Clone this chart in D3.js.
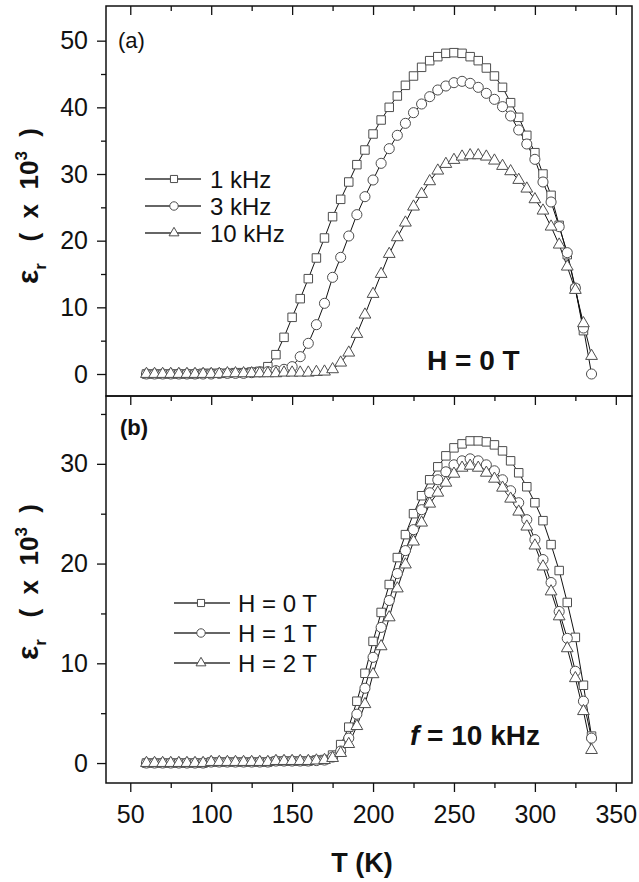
<!DOCTYPE html>
<html>
<head>
<meta charset="utf-8">
<script src="https://cdn.jsdelivr.net/npm/d3@7"></script>
<style>
  body { margin: 0; background: #fff; }
  svg text { font-family: Arial, "Liberation Sans", sans-serif; fill: #111; }
</style>
</head>
<body>
<div id="chart"></div>
<script>
// temperature grid (K)
const temps = [60, 65, 70, 75, 80, 85, 90, 95, 100, 105, 110, 115, 120, 125, 130, 135, 140, 145, 150, 155,
  160, 165, 170, 175, 180, 185, 190, 195, 200, 205, 210, 215, 220, 225, 230, 235, 240, 245, 250, 255,
  260, 265, 270, 275, 280, 285, 290, 295, 300, 305, 310, 315, 320, 325, 330, 335];

// panel (a), H = 0 T, eps_r x 10^3
const eps1k = [0.0, 0.0, 0.0, 0.0, 0.0, 0.0, 0.0, 0.1, 0.1, 0.1, 0.1, 0.2, 0.2, 0.3, 0.4, 1.1, 2.9, 5.5, 8.5, 11.3,
  14.3, 17.4, 20.4, 23.6, 26.2, 28.8, 31.4, 33.6, 36.0, 38.1, 40.0, 41.7, 43.3, 44.7, 46.0, 47.0, 47.6, 48.1, 48.2, 48.1,
  47.6, 47.0, 45.9, 44.7, 43.0, 40.7, 38.5, 35.8, 33.2, 30.0, 26.8, 22.3, 17.9, 12.8, 6.5, null];
const eps3k = [0.0, 0.0, 0.0, 0.0, 0.0, 0.0, 0.0, 0.0, 0.0, 0.1, 0.1, 0.1, 0.1, 0.2, 0.3, 0.35, 0.5, 0.7, 1.1, 2.6,
  4.6, 7.4, 10.6, 14.5, 17.5, 20.7, 23.9, 26.6, 29.1, 31.6, 33.8, 35.8, 37.6, 39.2, 40.5, 41.6, 42.6, 43.2, 43.7, 43.9,
  43.6, 43.0, 42.1, 41.2, 40.1, 38.7, 36.6, 34.5, 32.2, 28.8, 25.8, 22.1, 18.2, 12.9, 6.9, 0.0];
const eps10k = [0.0, 0.0, 0.0, 0.0, 0.0, 0.0, 0.0, 0.0, 0.0, 0.0, 0.1, 0.1, 0.1, 0.1, 0.1, 0.1, 0.1, 0.2, 0.2, 0.2,
  0.2, 0.3, 0.35, 0.7, 1.7, 3.2, 6.0, 8.9, 12.0, 15.0, 18.0, 20.5, 22.7, 25.1, 27.0, 28.9, 30.5, 31.5, 32.1, 32.6,
  32.8, 32.8, 32.6, 32.0, 31.2, 30.4, 29.1, 27.8, 26.2, 24.5, 22.1, 19.4, 16.1, 12.6, 7.6, 2.7];

// panel (b), f = 10 kHz
const epsH0 = [0.0, 0.0, 0.0, 0.0, 0.0, 0.0, 0.0, 0.0, 0.1, 0.1, 0.1, 0.1, 0.1, 0.1, 0.1, 0.1, 0.2, 0.2, 0.2, 0.2,
  0.2, 0.3, 0.35, 0.8, 1.85, 3.6, 6.2, 9.0, 12.2, 15.1, 17.9, 20.6, 22.9, 25.0, 26.8, 28.4, 29.7, 30.8, 31.6, 32.0,
  32.3, 32.3, 32.2, 31.9, 31.3, 30.3, 29.1, 27.7, 26.1, 24.3, 21.9, 19.3, 16.1, 12.6, 7.8, 2.7];
const epsH1 = [0.0, 0.0, 0.0, 0.0, 0.0, 0.0, 0.0, 0.0, 0.1, 0.1, 0.1, 0.1, 0.1, 0.1, 0.1, 0.1, 0.2, 0.2, 0.2, 0.2,
  0.2, 0.25, 0.3, 0.6, 1.2, 2.5, 4.9, 7.5, 10.6, 13.6, 16.3, 19.0, 21.3, 23.4, 25.4, 27.1, 28.4, 29.2, 29.9, 30.3,
  30.5, 30.3, 29.9, 29.3, 28.4, 27.3, 26.1, 24.4, 22.4, 20.4, 18.1, 15.2, 12.5, 9.2, 6.2, 2.5];
const epsH2 = [0.0, 0.0, 0.0, 0.0, 0.0, 0.0, 0.0, 0.0, 0.1, 0.1, 0.1, 0.1, 0.1, 0.1, 0.1, 0.1, 0.2, 0.2, 0.2, 0.2,
  0.2, 0.25, 0.3, 0.5, 1.0, 1.9, 3.7, 5.9, 8.9, 11.7, 14.6, 17.5, 19.9, 22.2, 24.1, 26.0, 27.1, 28.1, 29.0, 29.6,
  29.8, 29.6, 29.1, 28.5, 27.6, 26.5, 25.2, 23.7, 21.8, 19.7, 17.2, 14.7, 11.5, 8.5, 5.2, 1.3];

const xTicks = [50, 100, 150, 200, 250, 300, 350];
const xMinor = [75, 125, 175, 225, 275, 325];
const yTicksA = [0, 10, 20, 30, 40, 50];
const yMinorA = [5, 15, 25, 35, 45];
const yTicksB = [0, 10, 20, 30];
const yMinorB = [5, 15, 25, 35];

const legendA = ["1 kHz", "3 kHz", "10 kHz"];
const legendB = ["H = 0 T", "H = 1 T", "H = 2 T"];

const width = 639, height = 882;
const left = 106, right = 632, topA = 6, mid = 396, botB = 783;

const svg = d3.select("#chart").append("svg")
    .attr("width", width)
    .attr("height", height);

const x = d3.scaleLinear().domain([35, 360]).range([left, right]);
const yA = d3.scaleLinear().domain([-3.3, 55.2]).range([mid, topA]);
const yB = d3.scaleLinear().domain([-2, 36.8]).range([botB, mid]);

const symbols = [d3.symbolSquare, d3.symbolCircle, d3.symbolTriangle];

function marker(g, i, scale) {
    const sizes = [72, 80, 60];
    g.append("path")
        .attr("d", d3.symbol().type(symbols[i]).size(sizes[i] * scale)())
        .attr("fill", "#fff")
        .attr("stroke", "#4d4d4d")
        .attr("stroke-width", 1);
}

function drawPanel(y, seriesList, yTicks, yMinor, y0, y1) {
    const g = svg.append("g");

    // y axis
    g.append("g")
        .attr("transform", `translate(${left},0)`)
        .call(d3.axisLeft(y).tickValues(yTicks).tickSize(9).tickPadding(9).tickFormat(d3.format("d")))
        .call(a => a.select(".domain").remove())
        .call(a => a.selectAll("text").style("font-size", "25px"))
        .call(a => a.selectAll("line").attr("stroke", "#111").attr("stroke-width", 1.3));
    g.append("g")
        .attr("transform", `translate(${left},0)`)
        .call(d3.axisLeft(y).tickValues(yMinor).tickSize(5).tickFormat(""))
        .call(a => a.select(".domain").remove())
        .call(a => a.selectAll("line").attr("stroke", "#111").attr("stroke-width", 1.3));

    // inward ticks on the top edge
    g.append("g")
        .attr("transform", `translate(0,${y1})`)
        .call(d3.axisBottom(x).tickValues(xTicks).tickSize(9).tickFormat(""))
        .call(a => a.select(".domain").remove())
        .call(a => a.selectAll("line").attr("stroke", "#111").attr("stroke-width", 1.3));
    g.append("g")
        .attr("transform", `translate(0,${y1})`)
        .call(d3.axisBottom(x).tickValues(xMinor).tickSize(5).tickFormat(""))
        .call(a => a.select(".domain").remove())
        .call(a => a.selectAll("line").attr("stroke", "#111").attr("stroke-width", 1.3));

    // series
    seriesList.forEach(vals => {
        const pts = temps.map((t, k) => ({ t: t, v: vals[k] })).filter(d => d.v != null);
        g.append("path")
            .datum(pts)
            .attr("fill", "none")
            .attr("stroke", "#111")
            .attr("stroke-width", 1)
            .attr("d", d3.line().x(d => x(d.t)).y(d => y(d.v)));
    });
    seriesList.forEach((vals, i) => {
        const pts = temps.map((t, k) => ({ t: t, v: vals[k] })).filter(d => d.v != null);
        g.selectAll(null)
            .data(pts)
            .enter()
            .append("g")
            .attr("transform", d => `translate(${x(d.t)},${y(d.v)})`)
            .each(function () { marker(d3.select(this), i, 1); });
    });

    // frame
    g.append("rect")
        .attr("x", left)
        .attr("y", y1)
        .attr("width", right - left)
        .attr("height", y0 - y1)
        .attr("fill", "none")
        .attr("stroke", "#111")
        .attr("stroke-width", 1.5);
    return g;
}

drawPanel(yA, [eps1k, eps3k, eps10k], yTicksA, yMinorA, mid, topA);
drawPanel(yB, [epsH0, epsH1, epsH2], yTicksB, yMinorB, botB, mid);

// bottom x axis
svg.append("g")
    .attr("transform", `translate(0,${botB})`)
    .call(d3.axisBottom(x).tickValues(xTicks).tickSize(9).tickPadding(13).tickFormat(d3.format("d")))
    .call(a => a.select(".domain").remove())
    .call(a => a.selectAll("text").style("font-size", "25px"))
    .call(a => a.selectAll("line").attr("stroke", "#111").attr("stroke-width", 1.3));
svg.append("g")
    .attr("transform", `translate(0,${botB})`)
    .call(d3.axisBottom(x).tickValues(xMinor).tickSize(5).tickFormat(""))
    .call(a => a.select(".domain").remove())
    .call(a => a.selectAll("line").attr("stroke", "#111").attr("stroke-width", 1.3));

// legends
function legend(names, x0, y0, step, xm, xl1, xt) {
    names.forEach((name, i) => {
        const yy = y0 + i * step;
        svg.append("line")
            .attr("x1", x0).attr("x2", xl1)
            .attr("y1", yy).attr("y2", yy)
            .attr("stroke", "#333").attr("stroke-width", 1.3);
        const m = svg.append("g").attr("transform", `translate(${xm},${yy})`);
        marker(m, i, 0.7);
        svg.append("text")
            .attr("x", xt).attr("y", yy)
            .attr("dy", "0.36em")
            .style("font-size", "24px")
            .text(name);
    });
}
legend(legendA, 145, 179, 27, 174, 201, 210);
legend(legendB, 174, 603, 30, 201, 230, 238);

// panel letters and annotations
svg.append("text").attr("x", 118).attr("y", 48).style("font-size", "22px").text("(a)");
svg.append("text").attr("x", 120).attr("y", 435).style("font-size", "22px").style("font-weight", "bold").text("(b)");

svg.append("text").attr("x", 427).attr("y", 370)
    .style("font-size", "28px").style("font-weight", "bold").text("H = 0 T");

const fText = svg.append("text").attr("x", 410).attr("y", 745)
    .style("font-size", "28px").style("font-weight", "bold");
fText.append("tspan").style("font-style", "italic").text("f");
fText.append("tspan").text(" = 10 kHz");

// axis titles
svg.append("text")
    .attr("x", 362).attr("y", 872)
    .attr("text-anchor", "middle")
    .style("font-size", "27px").style("font-weight", "bold")
    .text("T (K)");

function yTitle(cx, cy) {
    const t = svg.append("text")
        .attr("transform", `translate(${cx},${cy}) rotate(-90)`)
        .attr("text-anchor", "middle")
        .style("font-size", "26px").style("font-weight", "bold")
        .style("white-space", "pre");
    t.append("tspan").style("font-size", "30px").text("ε");
    t.append("tspan").attr("dy", 8).style("font-size", "17px").text("r");
    t.append("tspan").attr("dy", -8).text("   (  x  10");
    t.append("tspan").attr("dy", -11).style("font-size", "17px").text("3");
    t.append("tspan").attr("dy", 11).text("  )");
}
yTitle(38, 206);
yTitle(38, 582);
</script>
</body>
</html>
